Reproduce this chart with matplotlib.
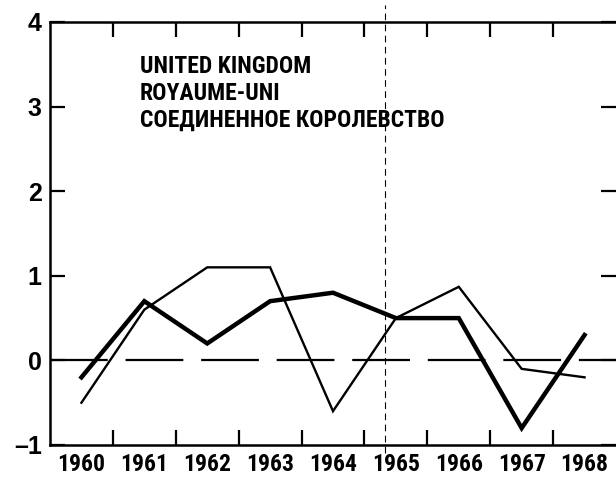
import numpy as np
import matplotlib
matplotlib.use("Agg")
import matplotlib.pyplot as plt
from matplotlib import font_manager

# data
years = [1960, 1961, 1962, 1963, 1964, 1965, 1966, 1967, 1968]
thick_series = [-0.2, 0.7, 0.2, 0.7, 0.8, 0.5, 0.5, -0.8, 0.3]
thin_series = [-0.5, 0.6, 1.1, 1.1, -0.6, 0.5, 0.87, -0.1, -0.2]
y_ticks = [-1, 0, 1, 2, 3, 4]
y_labels = ["\u20131", "0", "1", "2", "3", "4"]
title_lines = ["UNITED KINGDOM", "ROYAUME-UNI", "СОЕДИНЕННОЕ КОРОЛЕВСТВО"]
fold_x = 1964.83

names = {f.name for f in font_manager.fontManager.ttflist}
narrow = "Liberation Sans"
for cand in ["Roboto Condensed", "Oswald", "PT Sans Narrow", "Archivo Narrow"]:
    if cand in names:
        narrow = cand
        break

fig = plt.figure(figsize=(6.16, 4.78), dpi=100)
ax = fig.add_axes([50 / 616, 33 / 478, 566 / 616, 423 / 478])

ax.plot(years, thick_series, color="black", lw=3.2, solid_joinstyle="miter")
ax.plot(years, thin_series, color="black", lw=1.7, solid_joinstyle="miter")

# zero reference line, long dashes
ax.axhline(0, color="black", lw=1.6, dashes=(26, 8))
# faint fold line in the scan
ax.axvline(fold_x, ymin=-0.02, ymax=1.04, color="black", lw=0.8,
           dashes=(6, 4), clip_on=False)

ax.set_xlim(years[0] - 0.5, years[-1] + 0.5)
ax.set_ylim(y_ticks[0], y_ticks[-1])

# tick marks sit between the years, labels on the years
ax.set_xticks(np.array(years[:-1]) + 0.5)
ax.set_xticklabels([])
ax.set_xticks(years, minor=True)
ax.set_xticklabels([str(y) for y in years], minor=True,
                   fontfamily=narrow, fontweight="bold", fontsize=17)
ax.tick_params(axis="x", which="major", direction="in", length=11, width=1.6,
               top=True, bottom=True)
ax.tick_params(axis="x", which="minor", length=0, pad=6)

ax.set_yticks(y_ticks)
ax.set_yticklabels(y_labels, fontfamily="Liberation Sans", fontweight="bold", fontsize=18)
ax.tick_params(axis="y", direction="in", length=11, width=1.6,
               left=True, right=True, pad=6)

for side in ["left", "top", "bottom"]:
    ax.spines[side].set_linewidth(1.8)
ax.spines["right"].set_visible(False)

for i, line in enumerate(title_lines):
    ax.text(0.159, 0.879 - i * 0.0635, line, transform=ax.transAxes,
            fontfamily=narrow, fontweight="bold", fontsize=17, va="baseline")

fig.savefig("out.png", dpi=100)
